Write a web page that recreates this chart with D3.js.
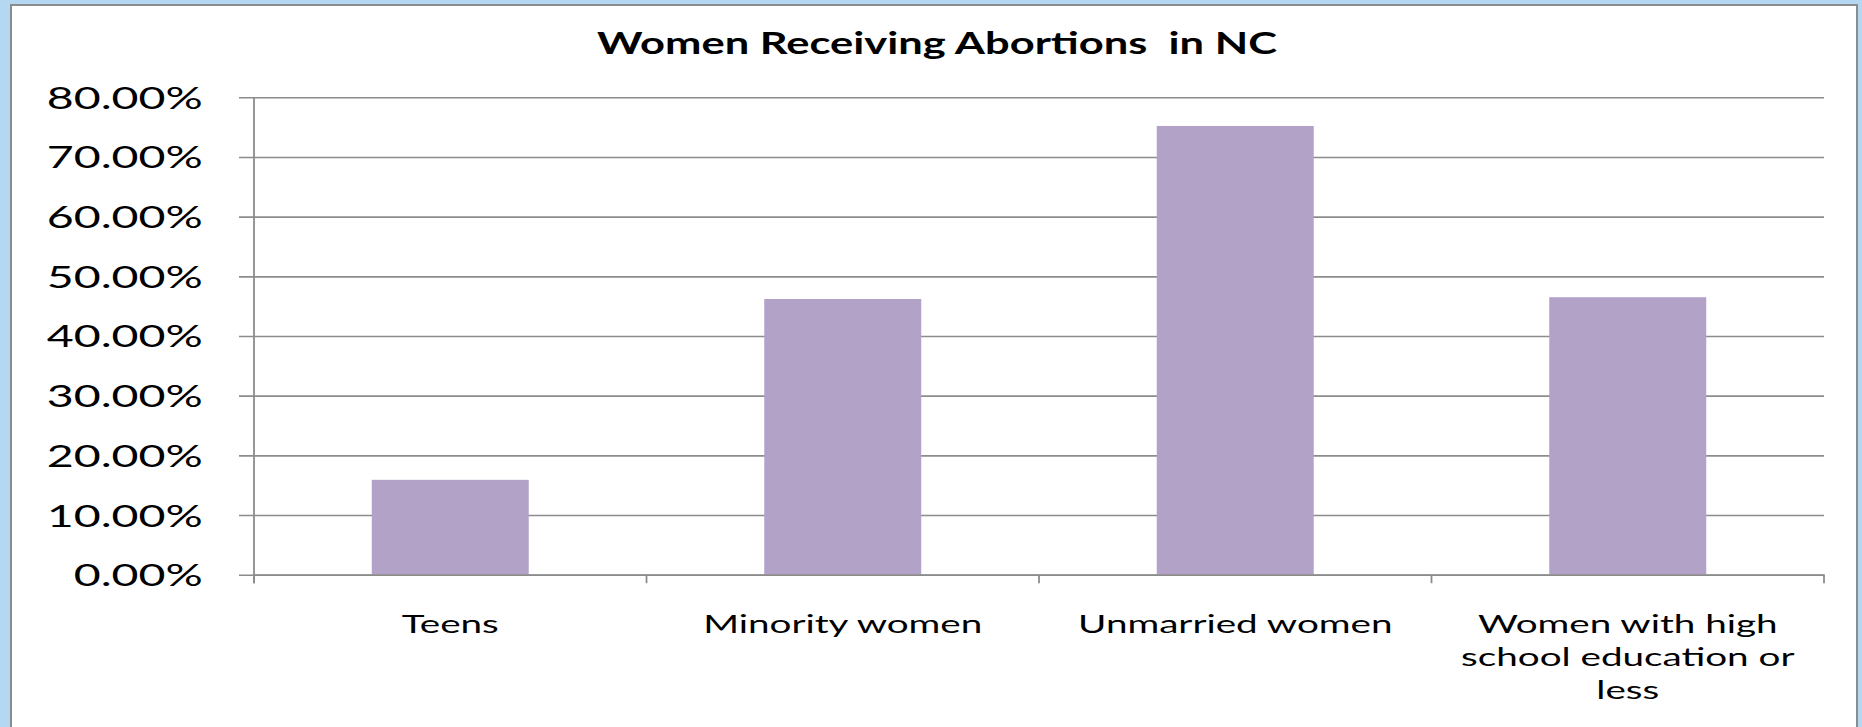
<!DOCTYPE html>
<html>
<head>
<meta charset="utf-8">
<script src="https://cdn.jsdelivr.net/npm/d3@7"></script>
<style>
  html, body { margin: 0; padding: 0; background: #b4d7f2; overflow: hidden; }
  svg { display: block; }
</style>
</head>
<body>
<svg id="chart" width="1862" height="727"></svg>
<script>
const title = "Women Receiving Abortions  in NC";
const categories = ["Teens", "Minority women", "Unmarried women", "Women with high school education or less"];
const values = [0.159, 0.462, 0.752, 0.465];
const yTicks = [0, 0.1, 0.2, 0.3, 0.4, 0.5, 0.6, 0.7, 0.8];

const svg = d3.select("#chart");
const W = 1862, H = 727;

svg.append("rect").attr("x", 0).attr("y", 0).attr("width", W).attr("height", H).attr("fill", "#b4d7f2");
svg.append("rect").attr("x", 11).attr("y", 5).attr("width", 1846).attr("height", 740)
  .attr("fill", "#ffffff").attr("stroke", "#8c8c8c").attr("stroke-width", 2);

const plot = { left: 254, right: 1824, top: 97.3, bottom: 574.7 };

const y = d3.scaleLinear().domain([0, 0.8]).range([plot.bottom, plot.top]);
const xBand = d3.scaleBand().domain(categories).range([plot.left, plot.right]).paddingInner(0.6).paddingOuter(0.3);
const xTick = d3.scaleBand().domain(categories).range([plot.left, plot.right]).padding(0);

function measure(family, weight, size, text) {
  const t = svg.append("text").attr("font-family", family).attr("font-weight", weight)
    .attr("font-size", size).style("white-space", "pre").text(text);
  const w = t.node().getComputedTextLength();
  t.remove();
  return w;
}
// horizontal stretch needed so that `text` at given size spans targetW
function stretchFor(family, weight, size, text, targetW) {
  return targetW / measure(family, weight, size, text);
}

// gridlines + y labels
const yAxis = d3.axisLeft(y).tickValues(yTicks).tickFormat(d3.format(".2%"))
  .tickSize(-(plot.right - plot.left)).tickSizeOuter(0);
const gy = svg.append("g").attr("transform", `translate(${plot.left},0)`).call(yAxis);
gy.select(".domain").remove();
gy.selectAll(".tick line").attr("stroke", "#8c8c8c").attr("stroke-width", 1.6).attr("x1", -15);
const yFamily = "Lato, 'DejaVu Sans', sans-serif";
const yFs = 30.5;
const ySx = stretchFor(yFamily, "normal", yFs, "80.00%", 156);
gy.selectAll(".tick text").attr("font-family", yFamily).attr("font-size", yFs)
  .attr("fill", "#000").attr("x", 0).attr("dy", "0.36em")
  .attr("transform", `translate(-51.3,0) scale(${ySx},1)`);

// bars
svg.append("g").selectAll("rect").data(categories).join("rect")
  .attr("x", d => xBand(d))
  .attr("width", xBand.bandwidth())
  .attr("y", (d, i) => y(values[i]))
  .attr("height", (d, i) => y(0) - y(values[i]))
  .attr("fill", "#b2a2c7");

// y axis line
svg.append("line").attr("x1", plot.left).attr("x2", plot.left).attr("y1", plot.top).attr("y2", plot.bottom + 8.5)
  .attr("stroke", "#8c8c8c").attr("stroke-width", 1.8);

// x axis
const xAxis = d3.axisBottom(xTick).tickValues([]).tickSizeOuter(0);
const gx = svg.append("g").attr("transform", `translate(0,${plot.bottom})`).call(xAxis);
gx.select(".domain").attr("stroke", "#8c8c8c").attr("stroke-width", 1.8);
const boundaries = categories.map(c => xTick(c)).concat([plot.right]);
gx.selectAll("line.bt").data(boundaries).join("line").attr("class", "bt")
  .attr("x1", d => d).attr("x2", d => d).attr("y1", 0).attr("y2", 8.5)
  .attr("stroke", "#8c8c8c").attr("stroke-width", 1.8);

// category labels
const xFamily = "Lato, 'Open Sans', sans-serif";
const xFs = 25;
const natSum = measure(xFamily, "normal", xFs, "Teens") + measure(xFamily, "normal", xFs, "Minority women")
  + measure(xFamily, "normal", xFs, "Unmarried women");
const xSx = (87 + 283 + 321) / natSum;
const lineH = 33;
const labels = svg.append("g");
categories.forEach(c => {
  const cx = xTick(c) + xTick.bandwidth() / 2;
  const g = labels.append("g").attr("transform", `translate(${cx},633) scale(${xSx},1)`);
  const t = g.append("text").attr("font-family", xFamily).attr("font-size", xFs)
    .attr("text-anchor", "middle").attr("fill", "#000");
  const words = c.split(" ");
  let lines = [], cur = [];
  words.forEach(w => {
    const test = cur.concat([w]).join(" ");
    if (measure(xFamily, "normal", xFs, test) * xSx > 350 && cur.length) {
      lines.push(cur.join(" "));
      cur = [w];
    } else cur.push(w);
  });
  lines.push(cur.join(" "));
  lines.forEach((l, i) => {
    t.append("tspan").attr("x", 0).attr("y", i * lineH).text(l);
  });
});

// title
const tFamily = "Lato, 'Open Sans', sans-serif";
const tFs = 31;
const tSx = stretchFor(tFamily, "bold", tFs, title, 680);
svg.append("text").attr("transform", `translate(937,54) scale(${tSx},1)`).attr("text-anchor", "middle")
  .attr("font-family", tFamily).attr("font-weight", "bold").attr("font-size", tFs)
  .attr("fill", "#000").style("white-space", "pre").text(title);
</script>
</body>
</html>
